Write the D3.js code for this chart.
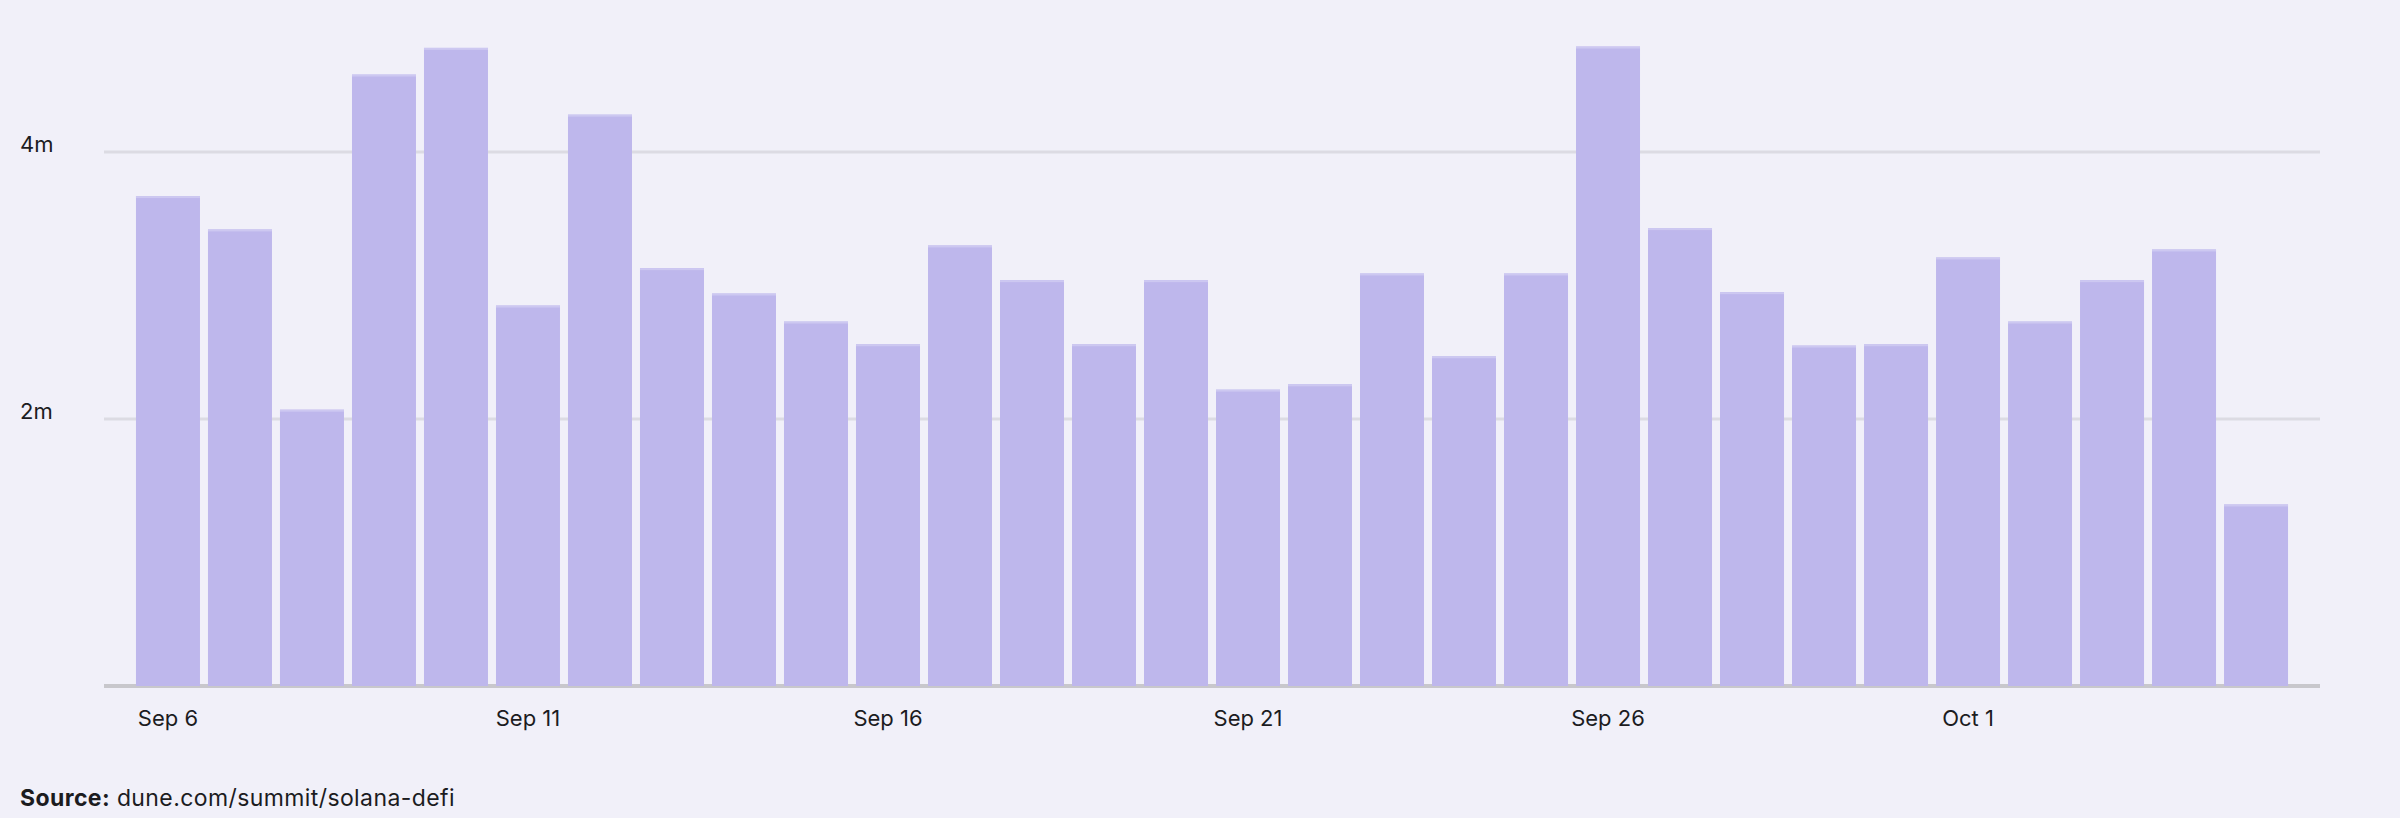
<!DOCTYPE html>
<html>
<head>
<meta charset="utf-8">
<script src="https://cdn.jsdelivr.net/npm/d3@7"></script>
<style>
  html, body { margin: 0; padding: 0; background: #F1F0F9; }
  svg { display: block; }
  text { font-family: "Inter", "Roboto", sans-serif; fill: #1c1c1f; }
</style>
</head>
<body>
<svg id="chart" width="2400" height="818"></svg>
<script>
const dates = ["Sep 6","Sep 7","Sep 8","Sep 9","Sep 10","Sep 11","Sep 12","Sep 13","Sep 14","Sep 15",
  "Sep 16","Sep 17","Sep 18","Sep 19","Sep 20","Sep 21","Sep 22","Sep 23","Sep 24","Sep 25",
  "Sep 26","Sep 27","Sep 28","Sep 29","Sep 30","Oct 1","Oct 2","Oct 3","Oct 4","Oct 5"];
const values = [3.67,3.42,2.07,4.58,4.78,2.85,4.28,3.13,2.94,2.73,
  2.56,3.30,3.04,2.56,3.04,2.22,2.26,3.09,2.47,3.09,
  4.79,3.43,2.95,2.55,2.56,3.21,2.73,3.04,3.27,1.36]; // millions
const xTickLabels = ["Sep 6","Sep 11","Sep 16","Sep 21","Sep 26","Oct 1"];
const yTicks = [2, 4];
const yTickLabels = ["2m", "4m"];
const sourceLabel = "Source:";
const sourceText = "dune.com/summit/solana-defi";

const svg = d3.select("#chart");
const W = 2400, H = 818;
svg.append("rect").attr("width", W).attr("height", H).attr("fill", "#F1F0F9");

const left = 104, right = 2320, y0 = 686;
const x = d3.scaleBand().domain(dates).range([left, right]).paddingInner(8/72).paddingOuter(0.444);
const y = d3.scaleLinear().domain([0, 5]).range([y0, y0 - 5 * 133.5]);

// gridlines
svg.append("g").selectAll("line").data(yTicks).join("line")
  .attr("x1", left).attr("x2", right)
  .attr("y1", d => y(d)).attr("y2", d => y(d))
  .attr("stroke", "#DCDBE3").attr("stroke-width", 3);

// y tick labels
svg.append("g").selectAll("text").data(yTicks).join("text")
  .attr("x", 20).attr("y", d => y(d))
  .attr("font-size", 22)
  .text((d, i) => yTickLabels[i]);

// axis baseline
svg.append("line").attr("x1", left).attr("x2", right)
  .attr("y1", y0).attr("y2", y0)
  .attr("stroke", "#C8C7CC").attr("stroke-width", 4);

// bars
const bars = svg.append("g");
bars.selectAll("rect.bar").data(values).join("rect").attr("class", "bar")
  .attr("x", (d, i) => x(dates[i]))
  .attr("width", x.bandwidth())
  .attr("y", d => y(d))
  .attr("height", d => y0 - y(d))
  .attr("fill", "#BEB7EC");
bars.selectAll("rect.hl").data(values).join("rect").attr("class", "hl")
  .attr("x", (d, i) => x(dates[i]))
  .attr("width", x.bandwidth())
  .attr("y", d => y(d))
  .attr("height", 2)
  .attr("fill", "#CDC8F1");

// x axis labels
const xAxis = d3.axisBottom(x).tickValues(xTickLabels).tickSize(0).tickPadding(0);
const gx = svg.append("g").attr("transform", `translate(0, ${y0})`).call(xAxis);
gx.select(".domain").remove();
gx.selectAll("text")
  .attr("y", 40)
  .attr("dy", 0)
  .attr("font-size", 22)
  .attr("font-family", "Inter, Roboto, sans-serif")
  .attr("fill", "#1c1c1f");

// source
const src = svg.append("text").attr("x", 20).attr("y", 806)
  .attr("font-size", 23).attr("letter-spacing", 0.4);
src.append("tspan").attr("font-weight", 700).text(sourceLabel);
src.append("tspan").text(" " + sourceText);
</script>
</body>
</html>
